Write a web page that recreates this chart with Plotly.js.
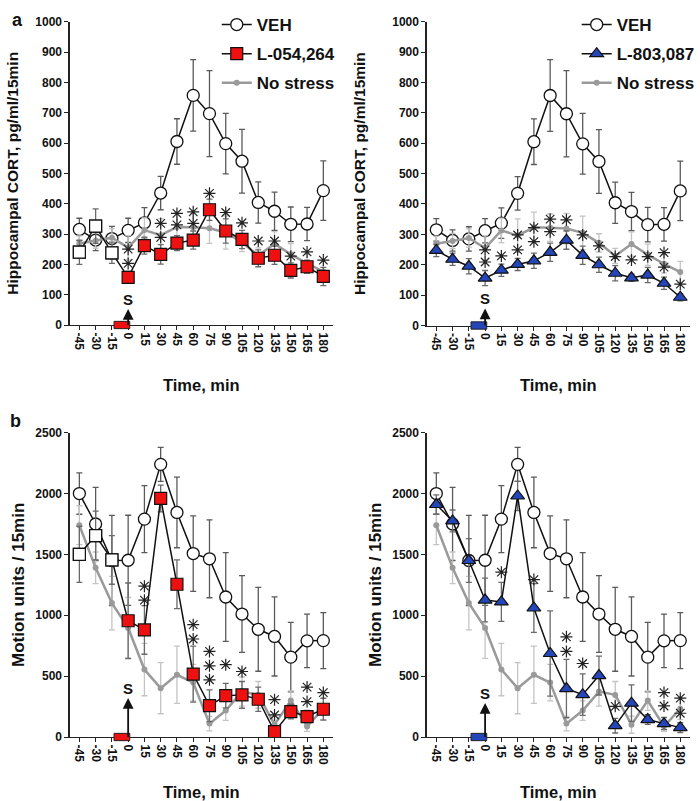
<!DOCTYPE html>
<html>
<head>
<meta charset="utf-8">
<script src="https://cdn.plot.ly/plotly-3.0.1.min.js"></script>
<style>html,body{margin:0;padding:0;background:#fff;}#chart{width:700px;height:801px;}</style>
</head>
<body>
<div id="chart"></div>
<script>
// ---------- DATA ----------
const times = [-45, -30, -15, 0, 15, 30, 45, 60, 75, 90, 105, 120, 135, 150, 165, 180];
const timeLabels = ["-45", "-30", "-15", "0", "15", "30", "45", "60", "75", "90", "105", "120", "135", "150", "165", "180"];
const seriesNames = ["VEH", "L-054,264", "L-803,087", "No stress"];

// Hippocampal CORT (pg/ml/15min)
const vehCort = [315, 280, 285, 312, 337, 435, 605, 757, 697, 598, 540, 404, 375, 332, 333, 443];
const vehCortErr = [37, 35, 40, 40, 50, 55, 75, 118, 142, 100, 105, 68, 63, 57, 55, 98];
const l054Cort = [240, 326, 238, 157, 262, 233, 270, 280, 380, 310, 282, 220, 230, 180, 192, 160];
const l054CortErr = [40, 57, 35, 20, 28, 32, 25, 30, 35, 40, 30, 28, 30, 25, 22, 30];
const l803Cort = [247, 218, 195, 156, 182, 201, 213, 241, 281, 231, 200, 172, 157, 166, 139, 93];
const l803CortErr = [20, 20, 25, 25, 20, 20, 25, 30, 30, 30, 25, 25, 12, 25, 20, 12];
const noStressCort = [269, 278, 288, 255, 313, 296, 323, 322, 319, 305, 272, 229, 268, 233, 203, 176];
const noStressCortErr = [25, 25, 30, 40, 40, 55, 50, 45, 50, 55, 30, 25, 40, 35, 30, 35];

// Motion units / 15min
const vehMot = [2000, 1750, 1450, 1452, 1790, 2240, 1845, 1507, 1464, 1150, 1010, 885, 826, 656, 790, 792];
const vehMotErr = [170, 300, 370, 370, 275, 140, 290, 310, 320, 365, 315, 345, 325, 285, 220, 230];
const l054Mot = [1500, 1655, 1455, 955, 880, 1960, 1255, 517, 257, 340, 346, 310, 44, 209, 168, 228];
const l054MotErr = [230, 200, 200, 310, 200, 110, 200, 230, 130, 100, 110, 100, 20, 60, 50, 90];
const l803Mot = [1910, 1775, 1450, 1125, 1110, 1980, 1060, 686, 398, 348, 505, 93, 278, 143, 110, 77];
const l803MotErr = [80, 90, 180, 180, 160, 120, 200, 350, 240, 170, 160, 60, 150, 40, 50, 40];
const noStressMot = [1740, 1390, 1100, 896, 554, 401, 511, 447, 110, 217, 373, 346, 101, 299, 87, 232];
const noStressMotErr = [160, 130, 220, 250, 215, 210, 235, 150, 60, 80, 120, 110, 70, 80, 40, 90];

// Significance asterisks (time, level)
const starsCortL054X = [0, 0, 30, 30, 45, 45, 60, 60, 75, 90, 105, 120, 135, 150, 165, 180];
const starsCortL054Y = [250, 203, 335, 289, 368, 330, 373, 335, 434, 371, 337, 277, 277, 227, 241, 214];
const starsCortL803X = [0, 0, 15, 30, 30, 45, 45, 60, 60, 75, 90, 105, 120, 135, 150, 165, 165, 180];
const starsCortL803Y = [249, 209, 229, 298, 249, 322, 276, 350, 309, 348, 298, 262, 227, 216, 227, 240, 192, 136];
const starsMotL054X = [15, 15, 60, 60, 75, 75, 75, 90, 105, 135, 135, 165, 165, 180];
const starsMotL054Y = [1239, 1124, 923, 805, 703, 585, 470, 594, 538, 307, 181, 410, 291, 365];
const starsMotL803X = [15, 45, 75, 75, 90, 120, 165, 165, 180, 180];
const starsMotL803Y = [1354, 1293, 823, 703, 604, 252, 365, 255, 319, 195];

const preDrugCount = 3; // -45, -30, -15 shown as open squares for L-054,264
const drugStart = -13, drugEnd = 1.5; // drug infusion bar (min)

// ---------- STYLE ----------
const FONT = "Liberation Sans, Arial, Helvetica, sans-serif";
const RED = "#ee1111", BLUE = "#2446b8", GRAY = "#9a9a9a";

function vehTrace(y, err, xa, ya, leg, show) {
  return {x: times, y: y, xaxis: xa, yaxis: ya, type: "scatter", mode: "lines+markers",
    name: seriesNames[0], legend: leg, showlegend: show, legendgroup: leg + "veh", legendrank: 1,
    line: {color: "#111", width: 1.5},
    marker: {symbol: "circle", size: 12, color: "#fff", line: {color: "#111", width: 1.3}},
    error_y: {type: "data", array: err, visible: true, color: "#5a5a5a", thickness: 1.3, width: 3}};
}
function grayTrace(y, err, xa, ya, leg, show) {
  return {x: times, y: y, xaxis: xa, yaxis: ya, type: "scatter", mode: "lines+markers",
    name: seriesNames[3], legend: leg, showlegend: show, legendgroup: leg + "ns", legendrank: 3,
    line: {color: GRAY, width: 2.5},
    marker: {symbol: "circle", size: 6, color: GRAY},
    error_y: {type: "data", array: err, visible: true, color: "#c4c4c4", thickness: 1.3, width: 3}};
}
function drugTrace(y, err, xa, ya, leg, show, name, sym, col) {
  return {x: times, y: y, xaxis: xa, yaxis: ya, type: "scatter", mode: "lines+markers",
    name: name, legend: leg, showlegend: show, legendgroup: leg + "drug", legendrank: 2,
    line: {color: "#111", width: 1.5},
    marker: {symbol: sym, size: 12, color: col, line: {color: "#111", width: 1.2}},
    error_y: {type: "data", array: err, visible: true, color: "#6a6a6a", thickness: 1.3, width: 3}};
}
function preTrace(y, xa, ya) {
  return {x: times.slice(0, preDrugCount), y: y.slice(0, preDrugCount), xaxis: xa, yaxis: ya,
    type: "scatter", mode: "markers", showlegend: false, hoverinfo: "skip",
    marker: {symbol: "square", size: 12, color: "#fff", line: {color: "#111", width: 1.2}}};
}
function starTrace(xs, ys, xa, ya) {
  return {x: xs, y: ys, xaxis: xa, yaxis: ya, type: "scatter", mode: "markers", showlegend: false,
    hoverinfo: "skip", cliponaxis: false,
    marker: {symbol: "asterisk-open", size: 10, color: "#222", line: {color: "#222", width: 1.2}}};
}

const data = [
  // a, left
  vehTrace(vehCort, vehCortErr, "x", "y", "legend", true),
  grayTrace(noStressCort, noStressCortErr, "x", "y", "legend", true),
  drugTrace(l054Cort, l054CortErr, "x", "y", "legend", true, seriesNames[1], "square", RED),
  preTrace(l054Cort, "x", "y"),
  starTrace(starsCortL054X, starsCortL054Y, "x", "y"),
  // a, right
  vehTrace(vehCort, vehCortErr, "x2", "y2", "legend2", true),
  grayTrace(noStressCort, noStressCortErr, "x2", "y2", "legend2", true),
  drugTrace(l803Cort, l803CortErr, "x2", "y2", "legend2", true, seriesNames[2], "triangle-up", BLUE),
  starTrace(starsCortL803X, starsCortL803Y, "x2", "y2"),
  // b, left
  vehTrace(vehMot, vehMotErr, "x3", "y3", "legend", false),
  grayTrace(noStressMot, noStressMotErr, "x3", "y3", "legend", false),
  drugTrace(l054Mot, l054MotErr, "x3", "y3", "legend", false, seriesNames[1], "square", RED),
  preTrace(l054Mot, "x3", "y3"),
  starTrace(starsMotL054X, starsMotL054Y, "x3", "y3"),
  // b, right
  vehTrace(vehMot, vehMotErr, "x4", "y4", "legend2", false),
  grayTrace(noStressMot, noStressMotErr, "x4", "y4", "legend2", false),
  drugTrace(l803Mot, l803MotErr, "x4", "y4", "legend2", false, seriesNames[2], "triangle-up", BLUE),
  starTrace(starsMotL803X, starsMotL803Y, "x4", "y4")
];

const W = 700, H = 801;
const tickFont = {family: FONT, size: 12, color: "#111", weight: "bold"};
function xAxis(domL, domR, anchor, standoff) {
  return {domain: [domL / W, domR / W], anchor: anchor, range: [-54, 189],
    tickmode: "array", tickvals: times, ticktext: timeLabels, tickangle: 90,
    ticks: "outside", ticklen: 4, tickwidth: 1, tickcolor: "#222",
    showline: true, linecolor: "#222", linewidth: 1.2, showgrid: false, zeroline: false,
    tickfont: tickFont,
    title: {text: "Time, min", font: {family: FONT, size: 16.5, color: "#111", weight: "bold"}, standoff: standoff}};
}
function yAxis(topPx, botPx, anchor, maxV, step, title, tsize, standoff) {
  return {domain: [(H - botPx) / H, (H - topPx) / H], anchor: anchor, range: [0, maxV], dtick: step,
    ticks: "outside", ticklen: 4, tickwidth: 1, tickcolor: "#222",
    showline: true, linecolor: "#222", linewidth: 1.2, showgrid: false, zeroline: false,
    tickfont: tickFont,
    title: {text: title, font: {family: FONT, size: tsize, color: "#111", weight: "bold"}, standoff: standoff}};
}

const cortTitle = "Hippocampal CORT, pg/ml/15min";
const motTitle = "Motion units / 15min";

function drugBar(xa, ya, col) {
  return {type: "rect", xref: xa, yref: ya + " domain", x0: drugStart, x1: drugEnd,
    y0: -0.012, y1: 0.012, fillcolor: col, line: {color: "#222", width: 1}, layer: "above"};
}
function stressArrow(xa, ya, ay) {
  return {xref: xa, yref: ya, x: 0, y: 0, text: "S", showarrow: true, ax: 0, ay: ay,
    arrowside: "start", startarrowhead: 2, startarrowsize: 1.2, arrowwidth: 1.8, arrowcolor: "#111",
    startstandoff: 0, font: {family: FONT, size: 15, color: "#111", weight: "bold"}};
}

const layout = {
  width: W, height: H, margin: {l: 0, r: 0, t: 0, b: 0},
  paper_bgcolor: "#fff", plot_bgcolor: "rgba(0,0,0,0)",
  font: {family: FONT, color: "#111"},
  xaxis: xAxis(70, 335, "y", 27),
  yaxis: yAxis(21.7, 325, "x", 1000, 100, cortTitle, 15.5, 12),
  xaxis2: xAxis(429, 694, "y2", 27),
  yaxis2: yAxis(21.7, 325.5, "x2", 1000, 100, cortTitle, 15.5, 22),
  xaxis3: xAxis(70, 335, "y3", 23),
  yaxis3: yAxis(432.7, 737, "x3", 2500, 500, motTitle, 17, 6),
  xaxis4: xAxis(429, 694, "y4", 23),
  yaxis4: yAxis(432.7, 737, "x4", 2500, 500, motTitle, 17, 6),
  legend: {x: 218 / W, y: 1 - 7 / H, xanchor: "left", yanchor: "top", bgcolor: "rgba(0,0,0,0)",
    traceorder: "grouped", tracegroupgap: 4, font: {family: FONT, size: 17, color: "#111", weight: "bold"}},
  legend2: {x: 580 / W, y: 1 - 7 / H, xanchor: "left", yanchor: "top", bgcolor: "rgba(0,0,0,0)",
    traceorder: "grouped", tracegroupgap: 4, font: {family: FONT, size: 17, color: "#111", weight: "bold"}},
  shapes: [drugBar("x", "y", RED), drugBar("x2", "y2", BLUE), drugBar("x3", "y3", RED), drugBar("x4", "y4", BLUE)],
  annotations: [
    stressArrow("x", "y", -26), stressArrow("x2", "y2", -27),
    stressArrow("x3", "y3", -49), stressArrow("x4", "y4", -44),
    {xref: "paper", yref: "paper", x: 10 / W, y: 1 - 8 / H, text: "a", showarrow: false,
      font: {family: FONT, size: 18, color: "#111", weight: "bold"}},
    {xref: "paper", yref: "paper", x: 8 / W, y: 1 - 421 / H, text: "b", showarrow: false,
      font: {family: FONT, size: 18, color: "#111", weight: "bold"}}
  ]
};

Plotly.newPlot("chart", data, layout, {displayModeBar: false, staticPlot: true});
</script>
</body>
</html>
